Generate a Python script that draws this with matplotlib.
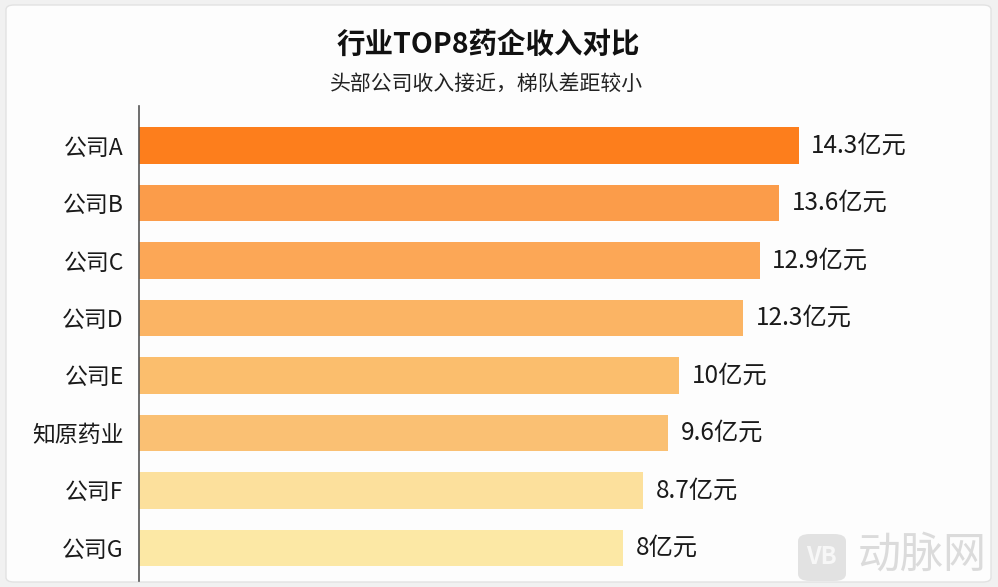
import matplotlib
matplotlib.use('Agg')
import matplotlib.pyplot as plt
from matplotlib.patches import FancyBboxPatch

plt.rcParams['font.family'] = ['Noto Sans CJK SC', 'DejaVu Sans']

# data
companies = ['公司A', '公司B', '公司C', '公司D', '公司E', '知原药业', '公司F', '公司G']
revenue = [14.3, 13.6, 12.9, 12.3, 10, 9.6, 8.7, 8]
labels = ['14.3亿元', '13.6亿元', '12.9亿元', '12.3亿元', '10亿元', '9.6亿元', '8.7亿元', '8亿元']
colors = ['#FD7E1C', '#FB9C4A', '#FCA756', '#FBB464', '#FBBE6D', '#FAC073', '#FCE09C', '#FCE8A5']

W, H = 998, 587
fig = plt.figure(figsize=(W / 100, H / 100), dpi=100)
fig.patch.set_facecolor('#f1f1f1')

# card background
card = FancyBboxPatch((6 / W, 5 / H), 985 / W, 577 / H,
                      boxstyle='round,pad=0,rounding_size=0.008',
                      transform=fig.transFigure, facecolor='#fdfdfd',
                      edgecolor='#e2e2e2', linewidth=1.0, zorder=-5)
fig.patches.append(card)

fig.text(488 / W, 1 - 45 / H, '行业TOP8药企收入对比', ha='center', va='center',
         fontsize=20.5, fontweight='bold', color='#111111')
fig.text(486 / W, 1 - 84 / H, '头部公司收入接近，梯队差距较小', ha='center', va='center',
         fontsize=15, color='#222222')

ax = fig.add_axes([139 / W, 6 / H, 851 / W, 475 / H])
ax.set_zorder(2)
ax.set_facecolor('none')

# axis does not start at zero in the original picture
base = -9.4
y = list(range(len(companies)))
ax.barh(y, [v - base for v in revenue], left=base, height=0.64, color=colors, zorder=2)

for yi, v, lab in zip(y, revenue, labels):
    ax.annotate(lab, (v, yi), xytext=(9, 0), textcoords='offset points',
                va='center', ha='left', fontsize=17.5, color='#1a1a1a')

ax.set_xlim(base, base + 851 / 27.84)
ax.set_ylim(7.574, -0.687)
ax.set_yticks(y)
ax.set_yticklabels(companies, fontsize=16.5, color='#1a1a1a')
ax.tick_params(axis='y', length=0, pad=11)
ax.set_xticks([])
for s in ['top', 'right', 'bottom']:
    ax.spines[s].set_visible(False)
ax.spines['left'].set_color('#555555')
ax.spines['left'].set_linewidth(1.2)

# watermark
logo = FancyBboxPatch((798 / W, 1 - 581 / H), 48 / W, 47 / H,
                      boxstyle='round,pad=0,rounding_size=0.012',
                      transform=fig.transFigure, facecolor='#dcdcdc',
                      edgecolor='none', alpha=0.8, zorder=5)
fig.patches.append(logo)
fig.text(822 / W, 1 - 557 / H, 'VB', ha='center', va='center', fontsize=17,
         fontweight='bold', color='#f7f7f7', zorder=6)
fig.text(922 / W, 1 - 556 / H, '动脉网', ha='center', va='center', fontsize=31,
         color='#d8d8d8', alpha=0.9, zorder=6)

fig.savefig('out.png', dpi=100, facecolor=fig.get_facecolor())
